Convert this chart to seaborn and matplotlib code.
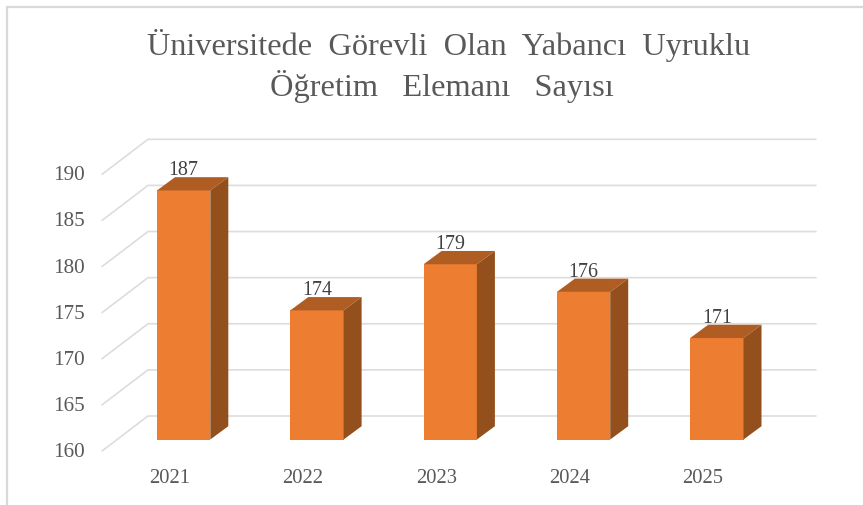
import matplotlib
matplotlib.use("Agg")
import matplotlib.pyplot as plt
from matplotlib.lines import Line2D
from matplotlib.transforms import Affine2D
import seaborn as sns
import pandas as pd

years = ["2021", "2022", "2023", "2024", "2025"]
values = [187, 174, 179, 176, 171]
y_ticks = [160, 165, 170, 175, 180, 185, 190]
title_lines = ["Üniversitede  Görevli  Olan  Yabancı  Uyruklu", "Öğretim\u2002 Elemanı\u2002 Sayısı"]

W, H = 863, 505
FRONT = "#ED7D31"
TOP = "#B05D23"
SIDE = "#94501C"
GRID = "#DDDDDD"
BORDER = "#D9D9D9"
TICK = "#595959"
LABEL = "#404040"

sns.set_theme(style="white")
plt.rcParams["font.family"] = ["Liberation Serif", "DejaVu Serif"]

fig = plt.figure(figsize=(W / 100, H / 100), dpi=100, facecolor="white")
left, right, bottom, top = 117, 783.5, 439.5, 162.8
ax = fig.add_axes([left / W, 1 - bottom / H, (right - left) / W, (bottom - top) / H])

df = pd.DataFrame({"year": years, "value": values})
sns.barplot(data=df, x="year", y="value", color=FRONT, saturation=1, width=0.4, ax=ax,
            zorder=3, linewidth=0, edgecolor="none")
ax.set_xlim(-0.5, 4.5)
ax.set_ylim(y_ticks[0], y_ticks[-1])
ax.set_xlabel("")
ax.set_ylabel("")
sns.despine(ax=ax, left=True, bottom=True)

# pixel sizes -> data units
px_x = (right - left) / (ax.get_xlim()[1] - ax.get_xlim()[0])
px_y = (bottom - top) / (ax.get_ylim()[1] - ax.get_ylim()[0])

# walls (gridlines)
back_dx, back_dy = 31 / px_x, 23.5 / px_y
front_dx, front_dy = -15 / px_x, -11.5 / px_y
x_end = ax.get_xlim()[1] + 32.5 / px_x
for v in y_ticks:
    ax.plot([ax.get_xlim()[0] + front_dx, ax.get_xlim()[0] + back_dx, x_end],
            [v + front_dy, v + back_dy, v + back_dy],
            color=GRID, lw=1.2, clip_on=False, zorder=1, solid_joinstyle="miter")

# 3D faces of each bar, from the bar patches
dx, dy = 18 / px_x, 13.3 / px_y
for patch in ax.patches:
    x0 = patch.get_x()
    x1 = x0 + patch.get_width()
    y1 = patch.get_height()
    y0 = y_ticks[0]
    ax.fill([x0, x1, x1 + dx, x0 + dx], [y1, y1, y1 + dy, y1 + dy],
            color=TOP, lw=0, clip_on=False, zorder=3)
    ax.fill([x1, x1 + dx, x1 + dx, x1], [y0, y0 + dy, y1 + dy, y1],
            color=SIDE, lw=0, clip_on=False, zorder=3)

ax.bar_label(ax.containers[0], labels=[str(v) for v in values], padding=7.5,
             fontsize=14.4, color=LABEL, zorder=5)
for t in ax.texts:
    t.set_zorder(5)
    t.set_clip_on(False)

ax.set_yticks(y_ticks)
ax.set_yticklabels([str(v) for v in y_ticks])
ax.tick_params(axis="y", length=0, pad=23, labelsize=15.2, labelcolor=TICK)
ax.tick_params(axis="x", length=0, pad=21, labelsize=14.8, labelcolor=TICK)
for lab in ax.get_yticklabels():
    lab.set_transform(lab.get_transform() + Affine2D().translate(0, -10.5))
for lab in ax.get_xticklabels():
    lab.set_transform(lab.get_transform() + Affine2D().translate(-14, 0))

# chart frame
fig.add_artist(Line2D([7 / W, 7 / W], [0, 1 - 7 / H], color=BORDER, lw=1.6))
fig.add_artist(Line2D([7 / W, 1], [1 - 7 / H, 1 - 7 / H], color=BORDER, lw=1.6))

# title
fig.text(449 / W, 1 - 46 / H, title_lines[0], ha="center", va="center", fontsize=23.3, color=TICK)
fig.text(441.5 / W, 1 - 87 / H, title_lines[1], ha="center", va="center", fontsize=23.3, color=TICK)

fig.savefig("out.png", dpi=100, facecolor="white")
